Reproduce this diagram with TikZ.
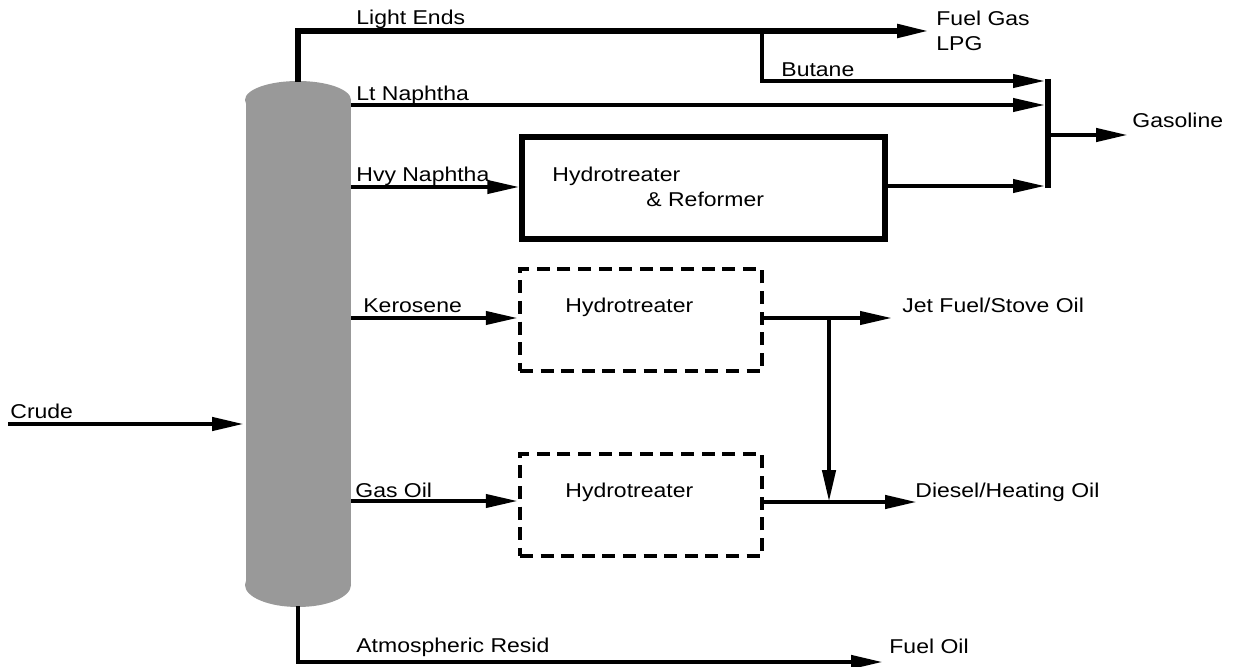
\documentclass[tikz,border=0pt]{standalone}
\usepackage{fontspec}
\setmainfont[FakeStretch=1.15]{Liberation Sans}
\usetikzlibrary{arrows.meta}
\definecolor{colgray}{RGB}{153,153,153}

\begin{document}
\begin{tikzpicture}
      [x=.5pt,y=-.5pt
      ,pipe/.style={line width=2pt}
      ,flw/.style={pipe,-{Triangle[length=16pt,width=6.5pt]}}
      ,unit/.style={draw,line width=2.6pt,inner sep=0,minimum height=51pt}
      ,dunit/.style={draw,line width=2.2pt,dash pattern=on 6.5pt off 3.8pt,inner sep=0,
                     minimum width=121pt,minimum height=51pt}
      ,lbl/.style={anchor=base west,inner sep=0,font=\fontsize{10}{12}\selectfont}]
        \useasboundingbox (0,0) rectangle (1234,667);
        % column
        \fill[colgray] (246,100) rectangle (351,585);
        \fill[colgray] (298,100) ellipse [x radius=53,y radius=19];
        \fill[colgray] (298,585) ellipse [x radius=53,y radius=22];
        \coordinate (top) at (298,82);
        \coordinate (bot) at (298,606);
        % units
        \node[unit,minimum width=181.5pt] (ref) at (703.5,188) {};
        \node[dunit] (ht1) at (641,320) {};
        \node[dunit] (ht2) at (641,505) {};
        \node[lbl] (refa) at (552,182) {Hydrotreater};
        \node[lbl] (refb) at (646,207) {\& Reformer};
        \node[lbl] (ht1l) at (565,313) {Hydrotreater};
        \node[lbl] (ht2l) at (565,497) {Hydrotreater};
        % end points
        \coordinate (fgas) at (929,31);
        \coordinate (btap) at (762,31);
        \coordinate (gbut) at (1045,81);
        \coordinate (gnap) at (1045,105);
        \coordinate (gref) at (1045,186);
        \coordinate (col1) at (1048,79);
        \coordinate (col2) at (1048,188);
        \coordinate (gmid) at (1048,135);
        \coordinate (gas)  at (1128,135);
        \coordinate (jet)  at (892,318);
        \coordinate (jtap) at (829,318);
        \coordinate (dsl)  at (917,502);
        \coordinate (dtap) at (829,502);
        \coordinate (fo)   at (883,662);
        \coordinate (crin) at (8,424);
        \coordinate (crout) at (244,424);
        % streams
        \draw[flw,line width=2.6pt] (top) |- (fgas);
        \draw[flw] (btap) |- (gbut);
        \draw[flw] (351,105) -- (gnap);
        \draw[flw] (351,187) -- (ref.west |- 0,187);
        \draw[flw] (ref.east |- gref) -- (gref);
        \draw[line width=2.6pt] (col1) -- (col2);
        \draw[flw,line width=2.2pt] (gmid) -- (gas);
        \draw[flw] (351,318) -- (ht1.west |- jet);
        \draw[flw] (351,501) -- (ht2.west |- 0,501);
        \draw[flw] (ht1.east |- jet) -- (jet);
        \draw[flw,line width=2.2pt] (jtap) -- (dtap);
        \draw[flw,line width=2.2pt] (ht2.east |- dsl) -- (dsl);
        \draw[flw,line width=2.2pt] (crin) -- (crout);
        \draw[flw,line width=2.2pt] (bot) |- (fo);
        % labels
        \node[lbl] (le)  at (356,25)  {Light Ends};
        \node[lbl] (fg)  at (936,26)  {Fuel Gas};
        \node[lbl] (lpg) at (936,51)  {LPG};
        \node[lbl] (bu)  at (781,77)  {Butane};
        \node[lbl] (ln)  at (356,101) {Lt Naphtha};
        \node[lbl] (gs)  at (1132,128) {Gasoline};
        \node[lbl] (hn)  at (356,182) {Hvy Naphtha};
        \node[lbl] (ke)  at (363,313) {Kerosene};
        \node[lbl] (jf)  at (902,313) {Jet Fuel/Stove Oil};
        \node[lbl] (cr)  at (10,418)  {Crude};
        \node[lbl] (go)  at (355,497) {Gas Oil};
        \node[lbl] (dh)  at (915,497) {Diesel/Heating Oil};
        \node[lbl] (ar)  at (356,652) {Atmospheric Resid};
        \node[lbl] (fol) at (889,653) {Fuel Oil};
      \end{tikzpicture}
\end{document}
